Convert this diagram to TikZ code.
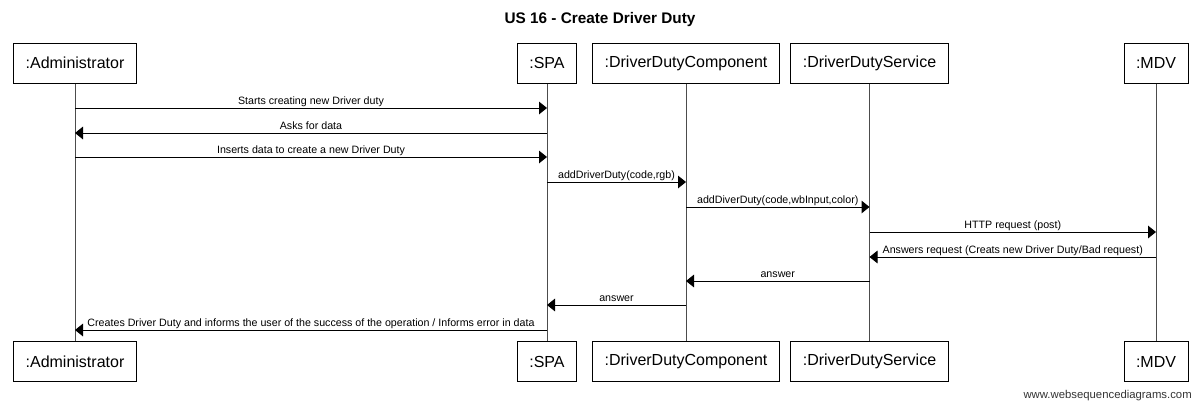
\documentclass[tikz,border=0pt]{standalone}
\usepackage{fontspec}
\setmainfont{Liberation Sans}
\usepackage{tikz}
\usetikzlibrary{arrows.meta, positioning}
\tikzstyle{pbox} = [draw, line width=0.75pt, fill=white, minimum height=30pt, inner xsep=9pt, font=\fontsize{12}{14}\selectfont]
\tikzstyle{lifeline} = [draw, black!70, line width=0.75pt]
\tikzstyle{msg} = [draw, line width=0.75pt, -{Triangle[length=6pt,width=9.5pt]}]
\tikzstyle{lbl} = [font=\fontsize{8}{9}\selectfont, inner sep=0pt, text depth=0pt, above=2.3pt]

\begin{document}
\begin{tikzpicture}[x=0.75pt, y=-0.75pt]
				\useasboundingbox (0,0) rectangle (1200,408);
				\node [anchor=base, font=\fontsize{11.5}{13}\selectfont\bfseries] (title) at (600,23) {US 16 - Create Driver Duty};

				% participants (top)
				\node [pbox] (adminT) at (75,63) {:Administrator};
				\node [pbox, minimum width=42pt] (spaT) at (547,63) {:SPA};
				\node [pbox] (compT) at (686,63) {:DriverDutyComponent};
				\node [pbox] (servT) at (869.5,63) {:DriverDutyService};
				\node [pbox] (mdvT) at (1156,63) {:MDV};

				% participants (bottom)
				\node [pbox] (adminB) at (75,361.5) {:Administrator};
				\node [pbox, minimum width=42pt] (spaB) at (547,361.5) {:SPA};
				\node [pbox] (compB) at (686,361.5) {:DriverDutyComponent};
				\node [pbox] (servB) at (869.5,361.5) {:DriverDutyService};
				\node [pbox] (mdvB) at (1156,361.5) {:MDV};

				\path [lifeline] (adminT) -- (adminB);
				\path [lifeline] (spaT) -- (spaB);
				\path [lifeline] (compT) -- (compB);
				\path [lifeline] (servT) -- (servB);
				\path [lifeline] (mdvT) -- (mdvB);

				% message rows
				\coordinate (r1) at (0,108);
				\coordinate (r2) at (0,133);
				\coordinate (r3) at (0,157);
				\coordinate (r4) at (0,182);
				\coordinate (r5) at (0,207);
				\coordinate (r6) at (0,232);
				\coordinate (r7) at (0,257);
				\coordinate (r8) at (0,281);
				\coordinate (r9) at (0,305);
				\coordinate (r10) at (0,330);

				\path [msg] (adminT |- r1) -- node [lbl] {Starts creating new Driver duty} (spaT |- r1);
				\path [msg] (spaT |- r2) -- node [lbl] {Asks for data} (adminT |- r2);
				\path [msg] (adminT |- r3) -- node [lbl] {Inserts data to create a new Driver Duty} (spaT |- r3);
				\path [msg] (spaT |- r4) -- node [lbl] {addDriverDuty(code,rgb)} (compT |- r4);
				\path [msg] (compT |- r5) -- node [lbl] {addDiverDuty(code,wbInput,color)} (servT |- r5);
				\path [msg] (servT |- r6) -- node [lbl] {HTTP request (post)} (mdvT |- r6);
				\path [msg] (mdvT |- r7) -- node [lbl] {Answers request (Creats new Driver Duty/Bad request)} (servT |- r7);
				\path [msg] (servT |- r8) -- node [lbl] {answer} (compT |- r8);
				\path [msg] (compT |- r9) -- node [lbl] {answer} (spaT |- r9);
				\path [msg] (spaT |- r10) -- node [lbl] {Creates Driver Duty and informs the user of the success of the operation / Informs error in data} (adminT |- r10);

				\node [anchor=base east, inner sep=0pt, font=\fontsize{8.5}{10}\selectfont, black!80] (wsd) at (1192,398) {www.websequencediagrams.com};
			\end{tikzpicture}
\end{document}
